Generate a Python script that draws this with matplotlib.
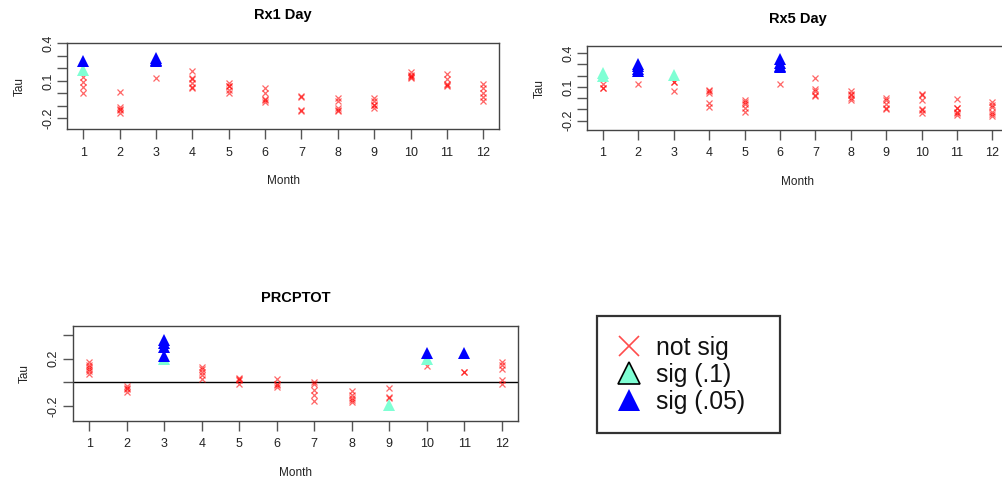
import matplotlib
matplotlib.use('Agg')
import matplotlib.pyplot as plt
from matplotlib.lines import Line2D

plt.rcParams['font.family'] = ['Liberation Sans', 'DejaVu Sans']

months = list(range(1, 13))

# Mann-Kendall tau per station, one list per month
rx1_notsig = [[0.13, 0.09, 0.05, 0.005], [0.01, -0.11, -0.125, -0.135, -0.155], [0.125],
              [0.175, 0.12, 0.115, 0.085, 0.05, 0.045], [0.08, 0.062, 0.06, 0.028, 0.0],
              [0.04, 0.0, -0.045, -0.05, -0.067], [-0.025, -0.03, -0.135, -0.14],
              [-0.04, -0.065, -0.12, -0.135, -0.14], [-0.04, -0.065, -0.09, -0.095, -0.115],
              [0.17, 0.15, 0.135, 0.13, 0.12], [0.155, 0.115, 0.075, 0.07, 0.062],
              [0.075, 0.04, 0.0, -0.027, -0.06]]
rx1_sig10 = [[0.187], [], [], [], [], [], [], [], [], [], [], []]
rx1_sig05 = [[0.259], [], [0.285, 0.27, 0.255], [], [], [], [], [], [], [], [], []]

rx5_notsig = [[0.13, 0.095, 0.09], [0.124], [0.145, 0.14, 0.065],
              [0.072, 0.06, 0.047, -0.04, -0.082], [-0.012, -0.03, -0.05, -0.09, -0.126],
              [0.13], [0.182, 0.085, 0.06, 0.03, 0.018], [0.065, 0.04, 0.026, 0.0, -0.012],
              [0.006, -0.02, -0.047, -0.085, -0.095], [0.035, 0.03, -0.018, -0.1, -0.106, -0.135],
              [-0.003, -0.085, -0.09, -0.125, -0.135, -0.15],
              [-0.035, -0.06, -0.08, -0.12, -0.14, -0.159]]
rx5_sig10 = [[0.225, 0.2], [], [0.209], [], [], [], [], [], [], [], [], []]
rx5_sig05 = [[], [0.305, 0.285, 0.26, 0.24], [], [], [], [0.345, 0.315, 0.29, 0.275],
             [], [], [], [], [], []]

prcp_notsig = [[0.174, 0.15, 0.13, 0.11, 0.097, 0.074], [-0.03, -0.045, -0.06, -0.083], [],
               [0.131, 0.11, 0.088, 0.06, 0.031], [0.04, 0.025, 0.022, -0.011],
               [0.031, -0.017, -0.02, -0.04], [0.0, -0.015, -0.065, -0.11, -0.155],
               [-0.074, -0.11, -0.13, -0.148, -0.168], [-0.048, -0.125, -0.13], [0.137],
               [0.088, 0.085], [0.174, 0.145, 0.117, 0.023, -0.017]]
prcp_sig10 = [[], [], [0.2], [], [], [], [], [], [-0.19], [0.2], [], []]
prcp_sig05 = [[], [], [0.355, 0.33, 0.3, 0.22], [], [], [], [], [], [], [0.253], [0.253], []]

W, H = 1002, 486
fig = plt.figure(figsize=(W / 100, H / 100), dpi=100)


def px_axes(x0, y0, x1, y1):
    return fig.add_axes([x0 / W, 1 - y1 / H, (x1 - x0) / W, (y1 - y0) / H])


def panel(ax, notsig, sig10, sig05, title, ylim, yticks, ylabels):
    for m, vals in zip(months, notsig):
        ax.plot([m] * len(vals), vals, 'x', color='red', alpha=0.6, ms=5, mew=0.9)
    for m, vals in zip(months, sig10):
        ax.plot([m] * len(vals), vals, '^', color='aquamarine', ms=8.5, mew=0)
    for m, vals in zip(months, sig05):
        ax.plot([m] * len(vals), vals, '^', color='blue', ms=8.5, mew=0)
    ax.set_xlim(0.56, 12.44)
    ax.set_ylim(*ylim)
    ax.set_xticks(months)
    ax.set_yticks(yticks)
    ax.set_yticklabels(ylabels, rotation=90, va='center')
    for s in ax.spines.values():
        s.set_color('#444444')
        s.set_linewidth(1.0)
    ax.tick_params(length=7, width=1.0, color='#555555', labelsize=9,
                   labelcolor='#222222')
    ax.tick_params(axis='x', pad=5.5)
    ax.tick_params(axis='y', pad=2.5)
    ax.set_title(title, fontsize=10.5, fontweight='bold', pad=17)
    ax.set_xlabel('Month', fontsize=8.5, labelpad=12, color='#222222')
    ax.set_ylabel('Tau', fontsize=8.5, labelpad=12, color='#222222')


ax1 = px_axes(67.3, 42.7, 499.3, 129.3)
panel(ax1, rx1_notsig, rx1_sig10, rx1_sig05, 'Rx1 Day', (-0.288, 0.405),
      [0.4, 0.3, 0.2, 0.1, 0.0, -0.1, -0.2], ['0.4', '', '', '0.1', '', '', '-0.2'])

ax2 = px_axes(587.3, 46.5, 1008, 130)
panel(ax2, rx5_notsig, rx5_sig10, rx5_sig05, 'Rx5 Day', (-0.282, 0.459),
      [0.4, 0.3, 0.2, 0.1, 0.0, -0.1, -0.2], ['0.4', '', '', '0.1', '', '', '-0.2'])

ax3 = px_axes(72.7, 326, 518.3, 420.5)
panel(ax3, prcp_notsig, prcp_sig10, prcp_sig05, 'PRCPTOT', (-0.324, 0.478),
      [0.4, 0.2, 0.0, -0.2], ['', '0.2', '', '-0.2'])
ax3.axhline(0, color='black', lw=1.0, zorder=1)

handles = [Line2D([], [], ls='none', marker='x', color='red', alpha=0.7, ms=14, mew=1.2),
           Line2D([], [], ls='none', marker='^', mfc='aquamarine', mec='black', ms=16, mew=1.2),
           Line2D([], [], ls='none', marker='^', color='blue', ms=16, mew=0)]
labels = ['not sig', 'sig (.1)', 'sig (.05)']
leg = fig.legend(handles, labels, loc='upper left',
                 bbox_to_anchor=(597 / W, 1 - 316 / H, 183 / W, 0.0), mode='expand',
                 fontsize=17.8, frameon=True, fancybox=False, edgecolor='black',
                 borderpad=0.8, labelspacing=0.12, handlelength=1.0, handletextpad=0.6,
                 borderaxespad=0)
leg.get_frame().set_linewidth(1.6)
for t in leg.get_texts():
    t.set_color('#111111')

fig.savefig('out.png', dpi=100)
